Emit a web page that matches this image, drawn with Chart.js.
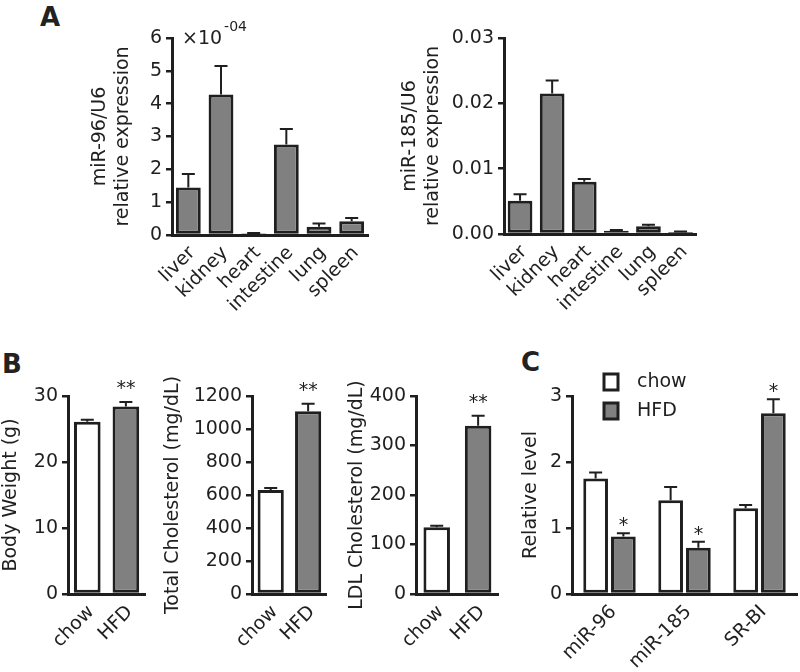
<!DOCTYPE html>
<html><head><meta charset="utf-8">
<script src="https://cdn.jsdelivr.net/npm/chart.js@4.4.1/dist/chart.umd.min.js"></script>
<style>
body{margin:0;background:#fff;width:800px;height:672px;position:relative;overflow:hidden;font-family:'DejaVu Sans',sans-serif;}
canvas{position:absolute;}
.lbl{position:absolute;font-weight:bold;font-size:26px;line-height:1;color:#222;font-family:'DejaVu Sans',sans-serif;}
</style></head><body>
<div class="lbl" style="left:40px;top:4px">A</div>
<div class="lbl" style="left:2px;top:351px">B</div>
<div class="lbl" style="left:521px;top:349px">C</div>
<canvas id="a1" width="291" height="310" style="left:89px;top:20px"></canvas>
<canvas id="a2" width="305" height="310" style="left:399px;top:20px"></canvas>
<canvas id="b1" width="150" height="312" style="left:0px;top:360px"></canvas>
<canvas id="b2" width="170" height="312" style="left:162px;top:360px"></canvas>
<canvas id="b3" width="156" height="312" style="left:346px;top:360px"></canvas>
<canvas id="c1" width="280" height="312" style="left:520px;top:360px"></canvas>
<script>
// ---------- data ----------
const organs = ['liver', 'kidney', 'heart', 'intestine', 'lung', 'spleen'];
// miR-96/U6 relative expression, in units of 10^-4
const mir96Mean = [1.45, 4.28, 0.05, 2.76, 0.25, 0.42];
const mir96Err  = [0.41, 0.87, 0.01, 0.47, 0.10, 0.10];
const mir185Mean = [0.0051, 0.0215, 0.0080, 0.0005, 0.0012, 0.0003];
const mir185Err  = [0.0010, 0.0020, 0.0004, 0.0001, 0.0002, 0.0001];

const diets = ['chow', 'HFD'];
const bodyWeight = [26.1, 28.4];
const bodyWeightErr = [0.3, 0.7];
const totalChol = [630, 1108];
const totalCholErr = [12, 45];
const ldlChol = [135, 340];
const ldlCholErr = [3, 20];
const dietSig = ['', '**'];

const genes = ['miR-96', 'miR-185', 'SR-BI'];
const chowLevel = [1.75, 1.42, 1.30];
const chowLevelErr = [0.09, 0.20, 0.05];
const hfdLevel = [0.87, 0.70, 2.74];
const hfdLevelErr = [0.05, 0.09, 0.21];
const hfdSig = ['*', '*', '*'];

// ---------- styles ----------
const INK = '#1f1f1f';
const GREY = '#808080';
const WHITE = '#ffffff';
const FONT = "'DejaVu Sans', sans-serif";
Chart.defaults.font.family = FONT;
Chart.defaults.font.size = 19;
Chart.defaults.color = INK;

const errorBarPlugin = {
  id: 'errorBars',
  afterDatasetsDraw(chart, args, opts) {
    const ctx = chart.ctx, y = chart.scales.y;
    chart.data.datasets.forEach((ds, i) => {
      if (!ds.errors) return;
      const meta = chart.getDatasetMeta(i);
      meta.data.forEach((bar, j) => {
        const v = ds.data[j], e = ds.errors[j];
        const x = bar.x;
        const yTop = y.getPixelForValue(v + e);
        const yBar = y.getPixelForValue(v);
        ctx.save();
        ctx.strokeStyle = INK;
        ctx.lineWidth = 2;
        if (e > 0) {
          ctx.beginPath();
          ctx.moveTo(x, yBar); ctx.lineTo(x, yTop);
          ctx.moveTo(x - 6.5, yTop); ctx.lineTo(x + 6.5, yTop);
          ctx.stroke();
        }
        const s = ds.sig && ds.sig[j];
        if (s) {
          ctx.fillStyle = INK;
          ctx.font = '19px ' + FONT;
          ctx.textAlign = 'center';
          ctx.textBaseline = 'alphabetic';
          ctx.fillText(s, x, yTop - (opts.sigGap || 3));
        }
        ctx.restore();
      });
    });
  }
};

const exponentPlugin = {
  id: 'exponent',
  afterDraw(chart) {
    const ctx = chart.ctx, a = chart.chartArea;
    ctx.save();
    ctx.fillStyle = INK;
    ctx.textBaseline = 'alphabetic';
    ctx.font = '19px ' + FONT;
    ctx.fillText('×10', a.left + 10, a.top + 6);
    const w = ctx.measureText('×10').width;
    ctx.font = '14px ' + FONT;
    ctx.fillText('-04', a.left + 12 + w, a.top - 7);
    ctx.restore();
  }
};

const legendPlugin = {
  id: 'boxLegend',
  afterDraw(chart) {
    const ctx = chart.ctx, a = chart.chartArea;
    ctx.save();
    chart.data.datasets.forEach((ds, i) => {
      const bx = a.left + 32, by = a.top - 22 + i * 29;
      ctx.fillStyle = ds.backgroundColor;
      ctx.fillRect(bx, by, 14, 16);
      ctx.strokeStyle = INK;
      ctx.lineWidth = 3;
      ctx.strokeRect(bx, by, 14, 16);
      ctx.fillStyle = INK;
      ctx.font = '19px ' + FONT;
      ctx.textBaseline = 'middle';
      ctx.fillText(ds.label, bx + 33, by + 8);
    });
    ctx.restore();
  }
};

function barSet(label, data, errors, color, sig, pct) {
  return {
    label, data, errors, sig,
    backgroundColor: color,
    borderColor: INK,
    borderWidth: 3,
    borderSkipped: false,
    barPercentage: pct.bar,
    categoryPercentage: pct.cat
  };
}

function panel(id, labels, datasets, y, lay, extra) {
  const yTicks = {stepSize: y.step, color: INK, padding: 4, callback: y.fmt || (v => String(v))};
  return new Chart(document.getElementById(id), {
    type: 'bar',
    data: {labels, datasets},
    options: {
      responsive: false,
      animation: false,
      devicePixelRatio: 1,
      layout: {padding: {top: lay.top, right: lay.right, left: 0, bottom: 0}},
      plugins: {
        legend: {display: false},
        tooltip: {enabled: false},
        errorBars: {sigGap: lay.sigGap}
      },
      scales: {
        x: {
          grid: {display: false, drawTicks: false},
          border: {display: true, color: INK, width: 3},
          ticks: {color: INK, minRotation: 45, maxRotation: 45, autoSkip: false, padding: 7, labelOffset: 4},
          afterFit(s) { s.height = lay.xH; }
        },
        y: {
          min: 0, max: y.max,
          grid: {display: true, drawOnChartArea: false, drawTicks: true, tickLength: 6, color: INK, lineWidth: 2.5},
          border: {display: true, color: INK, width: 3},
          ticks: yTicks,
          title: {display: true, text: y.title, color: INK, font: {size: 19, lineHeight: 1.2}, padding: 0},
          afterFit(s) { s.width = lay.yW; }
        }
      }
    },
    plugins: [errorBarPlugin].concat(extra || [])
  });
}

// Panel A
panel('a1', organs,
  [barSet('miR-96', mir96Mean, mir96Err, GREY, null, {bar: 0.76, cat: 1})],
  {max: 6, step: 1, title: ['miR-96/U6', 'relative expression']},
  {top: 18, right: 12, yW: 83, xH: 95}, [exponentPlugin]);

panel('a2', organs,
  [barSet('miR-185', mir185Mean, mir185Err, GREY, null, {bar: 0.77, cat: 1})],
  {max: 0.03, step: 0.01, title: ['miR-185/U6', 'relative expression'], fmt: v => v.toFixed(2)},
  {top: 18, right: 4, yW: 105, xH: 96});

// Panel B
panel('b1', diets,
  [barSet('Body Weight', bodyWeight, bodyWeightErr, [WHITE, GREY], dietSig, {bar: 0.69, cat: 1})],
  {max: 30, step: 10, title: 'Body Weight (g)'},
  {top: 36, right: 4, yW: 68, xH: 78, sigGap: 8});

panel('b2', diets,
  [barSet('Total Cholesterol', totalChol, totalCholErr, [WHITE, GREY], dietSig, {bar: 0.7, cat: 1})],
  {max: 1200, step: 200, title: 'Total Cholesterol (mg/dL)'},
  {top: 36, right: 3, yW: 90, xH: 78, sigGap: 8});

panel('b3', diets,
  [barSet('LDL Cholesterol', ldlChol, ldlCholErr, [WHITE, GREY], dietSig, {bar: 0.64, cat: 1})],
  {max: 400, step: 100, title: 'LDL Cholesterol (mg/dL)'},
  {top: 36, right: 3, yW: 70, xH: 78, sigGap: 8});

// Panel C
panel('c1', genes,
  [barSet('chow', chowLevel, chowLevelErr, WHITE, null, {bar: 0.89, cat: 0.74}),
   barSet('HFD', hfdLevel, hfdLevelErr, GREY, hfdSig, {bar: 0.89, cat: 0.74})],
  {max: 3, step: 1, title: 'Relative level'},
  {top: 36, right: 3, yW: 52, xH: 78, sigGap: 2}, [legendPlugin]);
</script>
</body></html>
